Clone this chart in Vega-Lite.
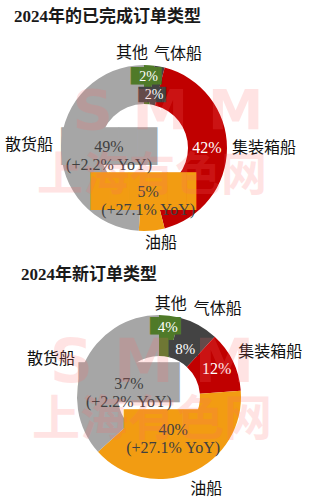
{
  "$schema": "https://vega.github.io/schema/vega-lite/v6.json",
  "background": "white",
  "padding": {"left": 0, "right": 0, "top": 8, "bottom": 0},
  "spacing": 0,
  "config": {"view": {"stroke": null}},
  "datasets": {
    "done": [
      {"cat": "其他", "v": 2, "ord": 1, "lbl": "2%"},
      {"cat": "气体船", "v": 2, "ord": 2, "lbl": "2%"},
      {"cat": "集装箱船", "v": 42, "ord": 3, "lbl": "42%"},
      {"cat": "油船", "v": 5, "ord": 4, "lbl": "5%\n(+27.1% YoY)"},
      {"cat": "散货船", "v": 49, "ord": 5, "lbl": "49%\n(+2.2% YoY)"}
    ],
    "new": [
      {"cat": "其他", "v": 4, "ord": 1, "lbl": "4%"},
      {"cat": "气体船", "v": 8, "ord": 2, "lbl": "8%"},
      {"cat": "集装箱船", "v": 12, "ord": 3, "lbl": "12%"},
      {"cat": "油船", "v": 40, "ord": 4, "lbl": "40%\n(+27.1% YoY)"},
      {"cat": "散货船", "v": 37, "ord": 5, "lbl": "37%\n(+2.2% YoY)"}
    ]
  },
  "vconcat": [
    {
      "width": 288,
      "height": 228,
      "title": {"text": "2024年的已完成订单类型", "anchor": "start", "dx": 14, "fontSize": 17, "font": "Liberation Serif, Noto Sans CJK SC", "fontWeight": "bold", "color": "#1a1a1a", "offset": 8},
      "data": {"name": "done"},
      "layer": [
        {"mark": {"type": "arc", "innerRadius": 44, "outerRadius": 83},
         "encoding": {"theta": {"field": "v", "type": "quantitative", "stack": true}, "order": {"field": "ord", "type": "quantitative"},
           "color": {"field": "cat", "type": "nominal", "legend": null, "scale": {"domain": ["其他", "气体船", "集装箱船", "油船", "散货船"], "range": ["#4f7a28", "#434343", "#c00000", "#f29c12", "#a6a6a6"]}}}},
        {"mark": {"type": "text", "radius": 71, "font": "DejaVu Sans Mono", "fontSize": 14.6},
         "encoding": {"theta": {"field": "v", "type": "quantitative", "stack": true}, "order": {"field": "ord", "type": "quantitative"},
           "color": {"field": "cat", "type": "nominal", "legend": null},
           "text": {"condition": {"test": "datum.cat === '其他'", "value": "███▌"}, "value": ""}}},
        {"mark": {"type": "text", "radius": 54, "font": "DejaVu Sans Mono", "fontSize": 13},
         "encoding": {"theta": {"field": "v", "type": "quantitative", "stack": true}, "order": {"field": "ord", "type": "quantitative"},
           "color": {"field": "cat", "type": "nominal", "legend": null},
           "text": {"condition": {"test": "datum.cat === '气体船'", "value": "███▌"}, "value": ""}}},
        {"mark": {"type": "text", "radius": 44, "font": "DejaVu Sans Mono", "fontSize": 31.8},
         "encoding": {"theta": {"field": "v", "type": "quantitative", "stack": true}, "order": {"field": "ord", "type": "quantitative"},
           "color": {"field": "cat", "type": "nominal", "legend": null},
           "text": {"condition": {"test": "datum.cat === '油船'", "value": "█████▌"}, "value": ""}}},
        {"mark": {"type": "text", "radius": 35, "font": "DejaVu Sans Mono", "fontSize": 31.8},
         "encoding": {"theta": {"field": "v", "type": "quantitative", "stack": true}, "order": {"field": "ord", "type": "quantitative"},
           "color": {"field": "cat", "type": "nominal", "legend": null},
           "text": {"condition": {"test": "datum.cat === '散货船'", "value": "█████"}, "value": ""}}},
        {"mark": {"type": "text", "radius": 71, "font": "Liberation Serif", "fontSize": 14, "fill": "#ffffff"},
         "encoding": {"theta": {"field": "v", "type": "quantitative", "stack": true}, "order": {"field": "ord", "type": "quantitative"},
           "text": {"condition": {"test": "datum.cat === '其他'", "field": "lbl"}, "value": ""}}},
        {"mark": {"type": "text", "radius": 54, "font": "Liberation Serif", "fontSize": 14, "fill": "#ffffff"},
         "encoding": {"theta": {"field": "v", "type": "quantitative", "stack": true}, "order": {"field": "ord", "type": "quantitative"},
           "text": {"condition": {"test": "datum.cat === '气体船'", "field": "lbl"}, "value": ""}}},
        {"mark": {"type": "text", "radius": 63, "font": "Liberation Serif", "fontSize": 16, "fill": "#ffffff"},
         "encoding": {"theta": {"field": "v", "type": "quantitative", "stack": true}, "order": {"field": "ord", "type": "quantitative"},
           "text": {"condition": {"test": "datum.cat === '集装箱船'", "field": "lbl"}, "value": ""}}},
        {"mark": {"type": "text", "radius": 44, "font": "Liberation Serif", "fontSize": 16, "fill": "#404040", "lineBreak": "\n", "lineHeight": 18},
         "encoding": {"theta": {"field": "v", "type": "quantitative", "stack": true}, "order": {"field": "ord", "type": "quantitative"},
           "text": {"condition": {"test": "datum.cat === '油船'", "field": "lbl"}, "value": ""}}},
        {"mark": {"type": "text", "radius": 35, "font": "Liberation Serif", "fontSize": 16, "fill": "#404040", "lineBreak": "\n", "lineHeight": 18},
         "encoding": {"theta": {"field": "v", "type": "quantitative", "stack": true}, "order": {"field": "ord", "type": "quantitative"},
           "text": {"condition": {"test": "datum.cat === '散货船'", "field": "lbl"}, "value": ""}}},
        {"mark": {"type": "text", "radius": 95, "dx": -18, "font": "Noto Sans CJK SC", "fontSize": 16, "fill": "#111111"},
         "encoding": {"theta": {"field": "v", "type": "quantitative", "stack": true}, "order": {"field": "ord", "type": "quantitative"},
           "text": {"condition": {"test": "datum.cat === '其他'", "field": "cat"}, "value": ""}}},
        {"mark": {"type": "text", "radius": 96, "dx": 16, "font": "Noto Sans CJK SC", "fontSize": 16, "fill": "#111111"},
         "encoding": {"theta": {"field": "v", "type": "quantitative", "stack": true}, "order": {"field": "ord", "type": "quantitative"},
           "text": {"condition": {"test": "datum.cat === '气体船'", "field": "cat"}, "value": ""}}},
        {"mark": {"type": "text", "radius": 88, "align": "left", "font": "Noto Sans CJK SC", "fontSize": 16, "fill": "#111111"},
         "encoding": {"theta": {"field": "v", "type": "quantitative", "stack": true}, "order": {"field": "ord", "type": "quantitative"},
           "text": {"condition": {"test": "datum.cat === '集装箱船'", "field": "cat"}, "value": ""}}},
        {"mark": {"type": "text", "radius": 95, "dx": 8, "font": "Noto Sans CJK SC", "fontSize": 16, "fill": "#111111"},
         "encoding": {"theta": {"field": "v", "type": "quantitative", "stack": true}, "order": {"field": "ord", "type": "quantitative"},
           "text": {"condition": {"test": "datum.cat === '油船'", "field": "cat"}, "value": ""}}},
        {"mark": {"type": "text", "radius": 91, "align": "right", "font": "Noto Sans CJK SC", "fontSize": 16, "fill": "#111111"},
         "encoding": {"theta": {"field": "v", "type": "quantitative", "stack": true}, "order": {"field": "ord", "type": "quantitative"},
           "text": {"condition": {"test": "datum.cat === '散货船'", "field": "cat"}, "value": ""}}},
        {"data": {"values": [{"wm": "S M M"}]},
         "mark": {"type": "text", "dx": 24, "dy": -36, "font": "DejaVu Sans", "fontWeight": "bold", "fontSize": 56, "fill": "#ff6a6a", "opacity": 0.18},
         "encoding": {"text": {"field": "wm"}}},
        {"data": {"values": [{"wm": "上海有色网"}]},
         "mark": {"type": "text", "dx": 8, "dy": 28, "font": "Noto Sans CJK SC", "fontWeight": "bold", "fontSize": 46, "fill": "#ff6a6a", "opacity": 0.18},
         "encoding": {"text": {"field": "wm"}}}
      ]
    },
    {
      "width": 318,
      "height": 270,
      "title": {"text": "2024年新订单类型", "anchor": "start", "dx": 21, "fontSize": 17, "font": "Liberation Serif, Noto Sans CJK SC", "fontWeight": "bold", "color": "#1a1a1a", "offset": -22},
      "data": {"name": "new"},
      "layer": [
        {"mark": {"type": "arc", "innerRadius": 41, "outerRadius": 82},
         "encoding": {"theta": {"field": "v", "type": "quantitative", "stack": true}, "order": {"field": "ord", "type": "quantitative"},
           "color": {"field": "cat", "type": "nominal", "legend": null, "scale": {"domain": ["其他", "气体船", "集装箱船", "油船", "散货船"], "range": ["#4f7a28", "#434343", "#c00000", "#f29c12", "#a6a6a6"]}}}},
        {"mark": {"type": "text", "radius": 71, "font": "DejaVu Sans Mono", "fontSize": 14.6},
         "encoding": {"theta": {"field": "v", "type": "quantitative", "stack": true}, "order": {"field": "ord", "type": "quantitative"},
           "color": {"field": "cat", "type": "nominal", "legend": null},
           "text": {"condition": {"test": "datum.cat === '其他'", "value": "███▌"}, "value": ""}}},
        {"mark": {"type": "text", "radius": 55, "font": "DejaVu Sans Mono", "fontSize": 13.7},
         "encoding": {"theta": {"field": "v", "type": "quantitative", "stack": true}, "order": {"field": "ord", "type": "quantitative"},
           "color": {"field": "cat", "type": "nominal", "legend": null},
           "text": {"condition": {"test": "datum.cat === '气体船'", "value": "███▌"}, "value": ""}}},
        {"mark": {"type": "text", "radius": 36, "font": "DejaVu Sans Mono", "fontSize": 32.6},
         "encoding": {"theta": {"field": "v", "type": "quantitative", "stack": true}, "order": {"field": "ord", "type": "quantitative"},
           "color": {"field": "cat", "type": "nominal", "legend": null},
           "text": {"condition": {"test": "datum.cat === '油船'", "value": "█████"}, "value": ""}}},
        {"mark": {"type": "text", "radius": 33, "font": "DejaVu Sans Mono", "fontSize": 33.5},
         "encoding": {"theta": {"field": "v", "type": "quantitative", "stack": true}, "order": {"field": "ord", "type": "quantitative"},
           "color": {"field": "cat", "type": "nominal", "legend": null},
           "text": {"condition": {"test": "datum.cat === '散货船'", "value": "█████"}, "value": ""}}},
        {"mark": {"type": "text", "radius": 71, "font": "Liberation Serif", "fontSize": 15, "fill": "#ffffff"},
         "encoding": {"theta": {"field": "v", "type": "quantitative", "stack": true}, "order": {"field": "ord", "type": "quantitative"},
           "text": {"condition": {"test": "datum.cat === '其他'", "field": "lbl"}, "value": ""}}},
        {"mark": {"type": "text", "radius": 55, "font": "Liberation Serif", "fontSize": 15, "fill": "#ffffff"},
         "encoding": {"theta": {"field": "v", "type": "quantitative", "stack": true}, "order": {"field": "ord", "type": "quantitative"},
           "text": {"condition": {"test": "datum.cat === '气体船'", "field": "lbl"}, "value": ""}}},
        {"mark": {"type": "text", "radius": 64, "font": "Liberation Serif", "fontSize": 16, "fill": "#ffffff"},
         "encoding": {"theta": {"field": "v", "type": "quantitative", "stack": true}, "order": {"field": "ord", "type": "quantitative"},
           "text": {"condition": {"test": "datum.cat === '集装箱船'", "field": "lbl"}, "value": ""}}},
        {"mark": {"type": "text", "radius": 36, "font": "Liberation Serif", "fontSize": 16, "fill": "#404040", "lineBreak": "\n", "lineHeight": 18},
         "encoding": {"theta": {"field": "v", "type": "quantitative", "stack": true}, "order": {"field": "ord", "type": "quantitative"},
           "text": {"condition": {"test": "datum.cat === '油船'", "field": "lbl"}, "value": ""}}},
        {"mark": {"type": "text", "radius": 33, "font": "Liberation Serif", "fontSize": 16, "fill": "#404040", "lineBreak": "\n", "lineHeight": 18},
         "encoding": {"theta": {"field": "v", "type": "quantitative", "stack": true}, "order": {"field": "ord", "type": "quantitative"},
           "text": {"condition": {"test": "datum.cat === '散货船'", "field": "lbl"}, "value": ""}}},
        {"mark": {"type": "text", "radius": 94, "font": "Noto Sans CJK SC", "fontSize": 16, "fill": "#111111"},
         "encoding": {"theta": {"field": "v", "type": "quantitative", "stack": true}, "order": {"field": "ord", "type": "quantitative"},
           "text": {"condition": {"test": "datum.cat === '其他'", "field": "cat"}, "value": ""}}},
        {"mark": {"type": "text", "radius": 100, "dx": 11, "font": "Noto Sans CJK SC", "fontSize": 16, "fill": "#111111"},
         "encoding": {"theta": {"field": "v", "type": "quantitative", "stack": true}, "order": {"field": "ord", "type": "quantitative"},
           "text": {"condition": {"test": "datum.cat === '气体船'", "field": "cat"}, "value": ""}}},
        {"mark": {"type": "text", "radius": 88, "dy": -7, "align": "left", "font": "Noto Sans CJK SC", "fontSize": 16, "fill": "#111111"},
         "encoding": {"theta": {"field": "v", "type": "quantitative", "stack": true}, "order": {"field": "ord", "type": "quantitative"},
           "text": {"condition": {"test": "datum.cat === '集装箱船'", "field": "cat"}, "value": ""}}},
        {"mark": {"type": "text", "radius": 100, "dx": 8, "font": "Noto Sans CJK SC", "fontSize": 16, "fill": "#111111"},
         "encoding": {"theta": {"field": "v", "type": "quantitative", "stack": true}, "order": {"field": "ord", "type": "quantitative"},
           "text": {"condition": {"test": "datum.cat === '油船'", "field": "cat"}, "value": ""}}},
        {"mark": {"type": "text", "radius": 92, "align": "right", "font": "Noto Sans CJK SC", "fontSize": 16, "fill": "#111111"},
         "encoding": {"theta": {"field": "v", "type": "quantitative", "stack": true}, "order": {"field": "ord", "type": "quantitative"},
           "text": {"condition": {"test": "datum.cat === '散货船'", "field": "cat"}, "value": ""}}},
        {"data": {"values": [{"wm": "S M M"}]},
         "mark": {"type": "text", "dx": -7, "dy": -33, "font": "DejaVu Sans", "fontWeight": "bold", "fontSize": 60, "fill": "#ff6a6a", "opacity": 0.18},
         "encoding": {"text": {"field": "wm"}}},
        {"data": {"values": [{"wm": "上海有色网"}]},
         "mark": {"type": "text", "dx": -7, "dy": 24, "font": "Noto Sans CJK SC", "fontWeight": "bold", "fontSize": 48, "fill": "#ff6a6a", "opacity": 0.18},
         "encoding": {"text": {"field": "wm"}}}
      ]
    }
  ]
}
